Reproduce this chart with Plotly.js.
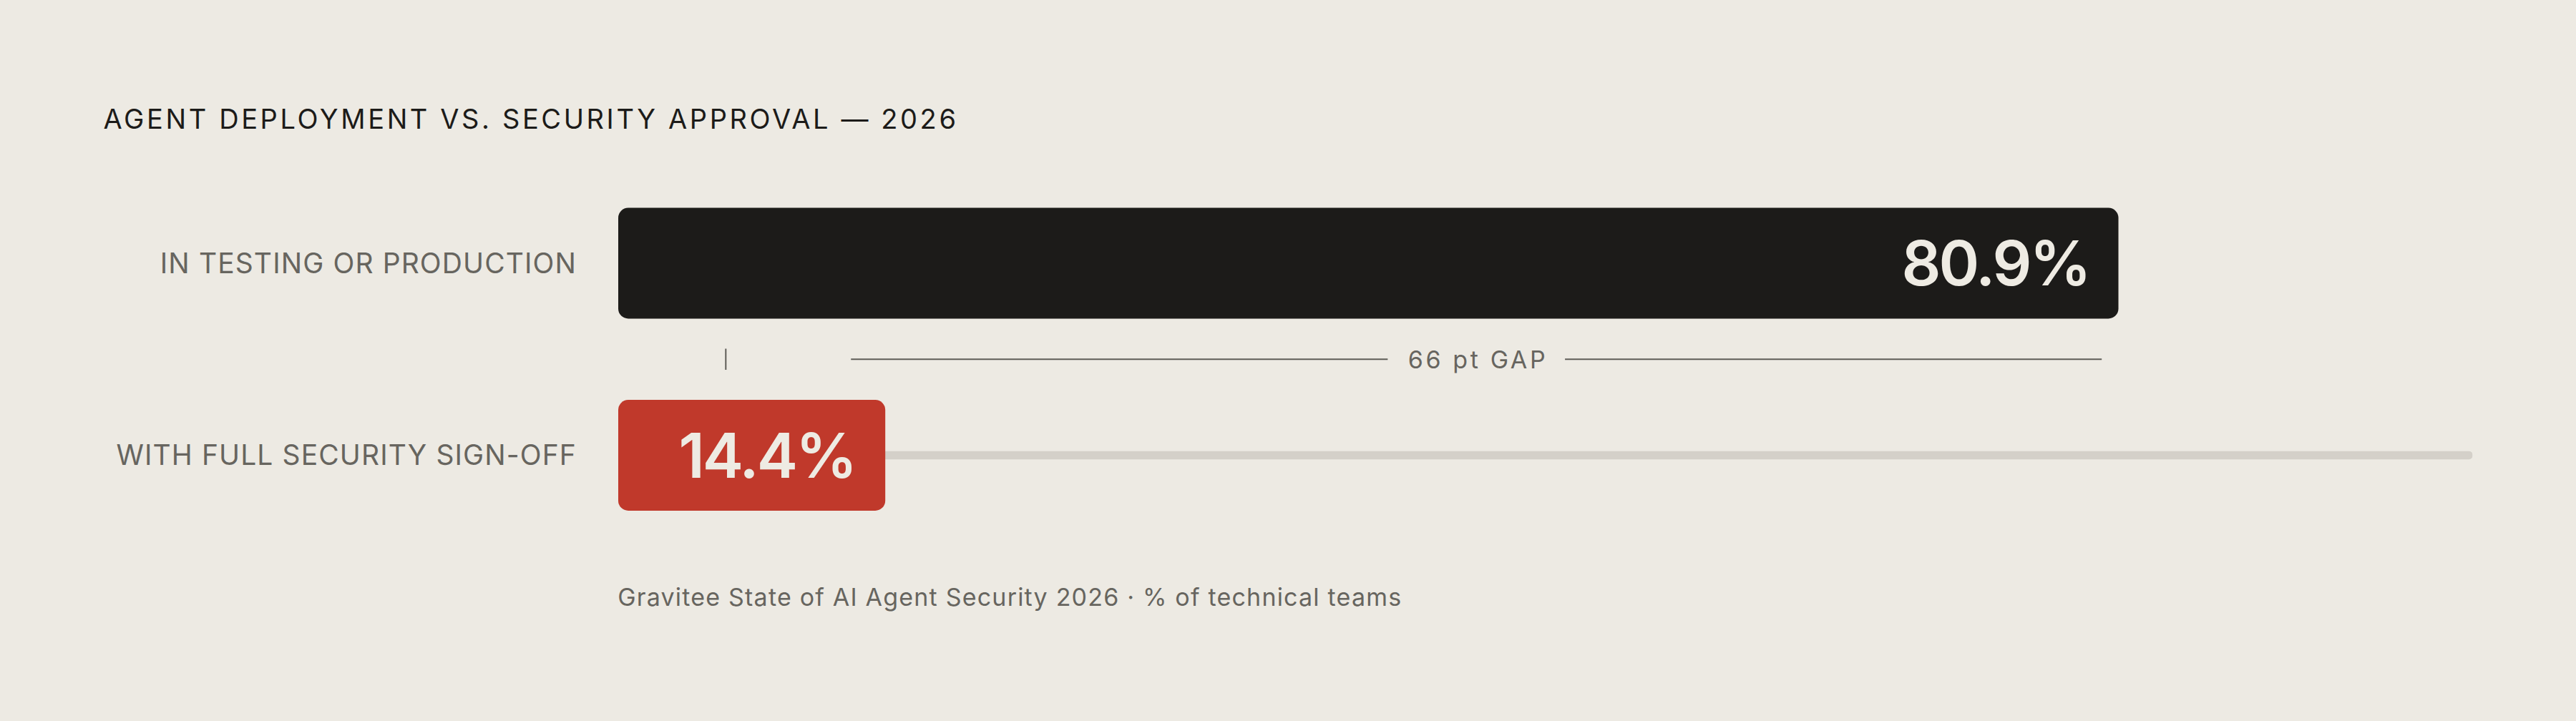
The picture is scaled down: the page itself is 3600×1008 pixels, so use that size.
<!DOCTYPE html>
<html>
<head>
<meta charset="utf-8">
<script src="https://cdn.plot.ly/plotly-3.0.1.min.js"></script>
<style>
  html, body { margin: 0; padding: 0; background: #edeae3; }
  #chart { width: 3600px; height: 1008px; }
  .gtitle { letter-spacing: 3.6px; }
  .ytick text { letter-spacing: 1.1px; }
  g.annotation[data-index="0"] text, g.annotation[data-index="1"] text { letter-spacing: -3px; }
  g.annotation[data-index="2"] text { letter-spacing: 3.6px; }
  g.annotation[data-index="3"] text { letter-spacing: 1.2px; }
</style>
</head>
<body>
<div id="chart"></div>
<script>
// ---- data ----
const categories = ["IN TESTING OR PRODUCTION", "WITH FULL SECURITY SIGN-OFF"];
const values = [80.9, 14.4];
const valueLabels = ["80.9%", "14.4%"];
const scaleMax = 100;
const gapLabel = "66 pt GAP";
const gapTick = 5.8;
const gapLine = [12.55, 80.0];
const gapTextHalf = 4.78;
const titleText = "AGENT DEPLOYMENT VS. SECURITY APPROVAL — 2026";
const sourceText = "Gravitee State of AI Agent Security 2026 · % of technical teams";

// ---- styles ----
const BG = "#edeae3";
const DARK = "#1c1b19";
const RED = "#c0392b";
const TRACK = "#d4d0c9";
const MUTED = "#67655f";
const LIGHT = "#eeebe3";
const FONT = "Inter, 'DejaVu Sans', sans-serif";

const gapMid = (gapLine[0] + gapLine[1]) / 2;
const barColors = [DARK, RED];

const traces = [
  {
    type: "bar", orientation: "h",
    x: [scaleMax], y: [categories[1]],
    width: 0.043,
    marker: { color: TRACK, cornerradius: 6 },
    hoverinfo: "skip", showlegend: false
  },
  {
    type: "bar", orientation: "h",
    base: values.map(() => 0), x: values, y: categories,
    width: 0.577,
    marker: { color: barColors, cornerradius: 14 },
    hoverinfo: "skip", showlegend: false
  }
];

const annotations = values.map((v, i) => ({
  x: v, y: categories[i], xref: "x", yref: "y",
  text: valueLabels[i], showarrow: false,
  xanchor: "right", yanchor: "middle", xshift: -32,
  font: { family: FONT, size: 86, weight: 600, color: LIGHT }
}));
annotations.push({
  x: gapMid, y: 0.5, xref: "x", yref: "y",
  text: gapLabel, showarrow: false,
  xanchor: "center", yanchor: "middle", xshift: 2,
  font: { family: FONT, size: 34, color: MUTED }
});
annotations.push({
  x: 0.24, y: 1 - 834.7 / 1008, xref: "paper", yref: "paper",
  text: sourceText, showarrow: false,
  xanchor: "left", yanchor: "middle", xshift: 35,
  font: { family: FONT, size: 34, color: MUTED }
});

const lineStyle = { color: "#5e5c57", width: 2 };
const shapes = [
  { type: "line", xref: "x", yref: "y", x0: gapTick, x1: gapTick, y0: 0.445, y1: 0.555, line: lineStyle },
  { type: "line", xref: "x", yref: "y", x0: gapLine[0], x1: gapMid - gapTextHalf, y0: 0.5, y1: 0.5, line: lineStyle },
  { type: "line", xref: "x", yref: "y", x0: gapMid + gapTextHalf, x1: gapLine[1], y0: 0.5, y1: 0.5, line: lineStyle }
];

const layout = {
  width: 3600, height: 1008,
  margin: { l: 0, r: 0, t: 0, b: 0, pad: 0 },
  paper_bgcolor: BG, plot_bgcolor: BG,
  barmode: "overlay",
  title: {
    text: titleText, x: 144.6 / 3600, xanchor: "left", xref: "paper",
    y: 1 - 167 / 1008, yanchor: "middle", yref: "paper",
    font: { family: FONT, size: 38, color: DARK }
  },
  xaxis: { domain: [0.24, 3455.5 / 3600], range: [0, scaleMax], visible: false, fixedrange: true },
  yaxis: {
    type: "category", categoryorder: "array", categoryarray: categories,
    range: [2.3836, -1.3706],
    showgrid: false, zeroline: false, showline: false, ticks: "",
    ticklabelstandoff: 57,
    tickfont: { family: FONT, size: 39, color: MUTED },
    fixedrange: true
  },
  annotations: annotations,
  shapes: shapes,
  showlegend: false
};

Plotly.newPlot("chart", traces, layout, { displayModeBar: false, staticPlot: true });
</script>
</body>
</html>
